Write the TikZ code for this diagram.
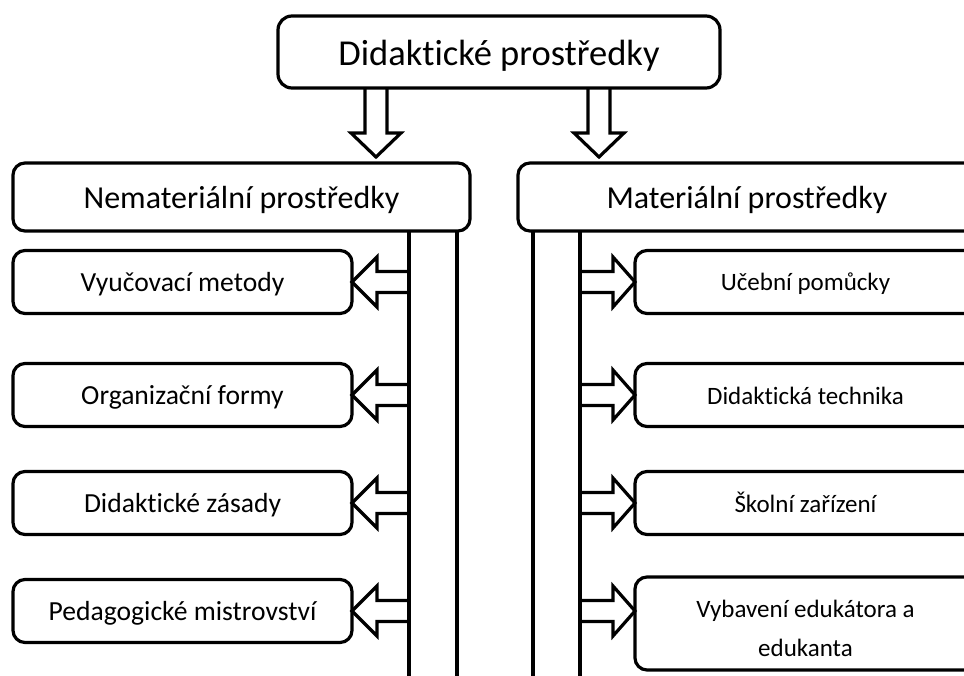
\documentclass[tikz,border=0pt]{standalone}
\usepackage{fontspec}
\setmainfont{Carlito}[Ligatures={NoCommon}]
\usetikzlibrary{calc}
\begin{document}
\begin{tikzpicture}[x=1pt,y=-1pt,
  box/.style={draw, line width=3.2pt, rounded corners=12pt, inner sep=0pt, outer sep=0pt},
  blk/.style={draw, line width=3.2pt, line join=miter},
  vline/.style={line width=3.2pt},
  tA/.style={font=\fontsize{36.5}{44}\selectfont, text height=31.4pt, text depth=5.1pt},
  tB/.style={font=\fontsize{32}{38}\selectfont, text height=27.5pt, text depth=4.5pt},
  tL/.style={font=\fontsize{27.6}{33}\selectfont, text height=23.7pt, text depth=3.9pt},
  tR/.style={font=\fontsize{25}{37}\selectfont, text height=21.5pt, text depth=3.5pt},
  tRm/.style={font=\fontsize{25}{39}\selectfont}
]
\clip (0,0) rectangle (964,676);
\fill[white] (0,0) rectangle (964,676);

% boxes
\node[box, tA, rounded corners=14pt, minimum width=442pt, minimum height=72pt] (top) at (499,52) {Didaktické prostředky};
\node[box, tB, minimum width=457pt, minimum height=68pt] (n1) at (241.5,197) {Nemateriální prostředky};
\node[box, tB, minimum width=458pt, minimum height=68pt] (n2) at (747,197) {Materiální prostředky};

\node[box, tL, minimum width=339pt, minimum height=63pt] (l1) at (182.5,282) {Vyučovací metody};
\node[box, tL, minimum width=339pt, minimum height=63pt] (l2) at (182.5,395) {Organizační formy};
\node[box, tL, minimum width=339pt, minimum height=63pt] (l3) at (182.5,503) {Didaktické zásady};
\node[box, tL, minimum width=339pt, minimum height=63pt] (l4) at (182.5,611) {Pedagogické mistrovství};

\node[box, tR, minimum width=341pt, minimum height=63pt] (r1) at (805.5,282) {Učební pomůcky};
\node[box, tR, minimum width=341pt, minimum height=63pt] (r2) at (805.5,395) {Didaktická technika};
\node[box, tR, minimum width=341pt, minimum height=63pt] (r3) at (805.5,503) {Školní zařízení};
\node[box, tRm, minimum width=341pt, minimum height=93pt] (r4) at (805.5,623.5)
  {\raisebox{-12pt}[0pt][0pt]{\begin{tabular}{@{}c@{}}Vybavení edukátora a\\edukanta\end{tabular}}};

% vertical lines
\coordinate (va) at (n1.south -| 409,0);
\coordinate (vb) at (n1.south -| 457,0);
\coordinate (vc) at (n2.south -| 533,0);
\coordinate (vd) at (n2.south -| 580,0);
\draw[vline] (va) -- (va |- 0,690);
\draw[vline] (vb) -- (vb |- 0,690);
\draw[vline] (vc) -- (vc |- 0,690);
\draw[vline] (vd) -- (vd |- 0,690);

% down block arrows
\coordinate (sa) at (top.south -| 376,0);
\coordinate (sb) at (top.south -| 599,0);
\foreach \s in {sa,sb}{
  \draw[blk] ($(\s)+(-11,0)$) -- ($(\s)+(-11,45)$) -- ($(\s)+(-25,45)$) -- ($(\s)+(0,69)$)
     -- ($(\s)+(25,45)$) -- ($(\s)+(11,45)$) -- ($(\s)+(11,0)$);
}

% left block arrows
\foreach \n in {l1,l2,l3,l4}{
  \draw[blk] ($(\n.east -| va)+(0,-10.5)$) -- ($(\n.east)+(25,-10.5)$) -- ($(\n.east)+(25,-25)$)
     -- (\n.east) -- ($(\n.east)+(25,25)$) -- ($(\n.east)+(25,10.5)$) -- ($(\n.east -| va)+(0,10.5)$);
}

% right block arrows
\foreach \l/\r in {l1/r1,l2/r2,l3/r3,l4/r4}{
  \coordinate (tp) at (\l.east -| \r.west);
  \draw[blk] ($(tp -| vd)+(0,-10.5)$) -- ($(tp)+(-22,-10.5)$) -- ($(tp)+(-22,-25)$)
     -- (tp) -- ($(tp)+(-22,25)$) -- ($(tp)+(-22,10.5)$) -- ($(tp -| vd)+(0,10.5)$);
}
\end{tikzpicture}
\end{document}
